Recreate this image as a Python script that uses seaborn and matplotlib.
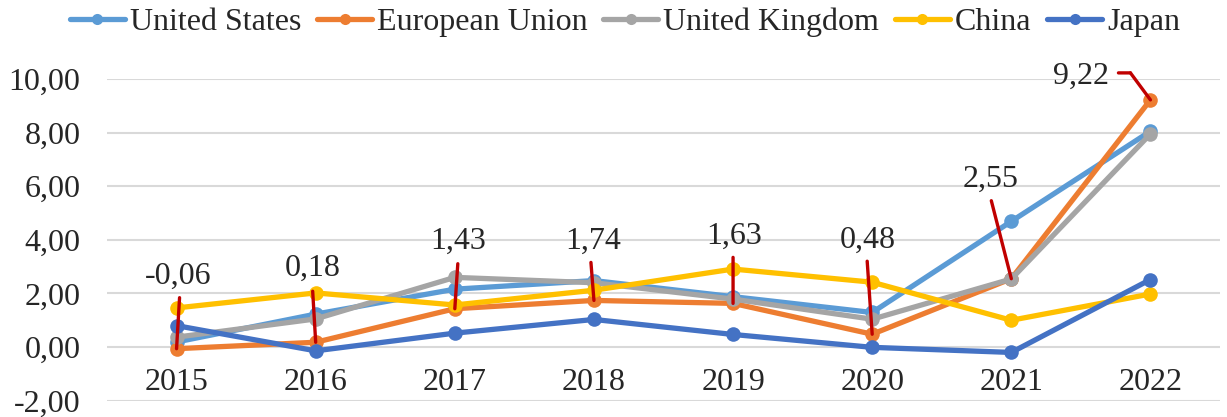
import pandas as pd
import matplotlib.pyplot as plt
import seaborn as sns
from matplotlib.lines import Line2D
from matplotlib.ticker import FuncFormatter
from matplotlib.transforms import offset_copy

years = [2015, 2016, 2017, 2018, 2019, 2020, 2021, 2022]
countries = ["United States", "European Union", "United Kingdom", "China", "Japan"]
united_states = [0.19, 1.23, 2.16, 2.48, 1.88, 1.29, 4.69, 8.05]
european_union = [-0.06, 0.18, 1.43, 1.74, 1.63, 0.48, 2.55, 9.22]
united_kingdom = [0.37, 1.05, 2.60, 2.40, 1.79, 1.04, 2.54, 7.95]
china = [1.46, 2.02, 1.57, 2.12, 2.91, 2.42, 1.00, 1.98]
japan = [0.80, -0.14, 0.52, 1.03, 0.47, -0.01, -0.20, 2.52]

colors = ["#5B9BD5", "#ED7D31", "#A5A5A5", "#FFC000", "#4472C4"]
leader_red = "#C00000"

# pixel offsets of the EU data labels and their leader lines
label_offsets = [(2, 72), (-3, 74), (3, 67), (-1, 59), (1, 67), (-4, 94), (-21, 99), (-69, 24)]
leader_paths = [[(3, 51)], [(-3, 51)], [(3, 45)], [(-3, 38)], [(0, 46)],
                [(-5, 73)], [(-20, 78)], [(-20, 27), (-32, 27)]]


def fmt(v, _=None):
    return f"{v:.2f}".replace(".", ",")


series = [united_states, european_union, united_kingdom, china, japan]
df = pd.concat(
    [pd.DataFrame({"year": years, "value": vals, "country": name})
     for name, vals in zip(countries, series)],
    ignore_index=True,
)

sns.set_style("white")
plt.rcParams["font.family"] = ["Liberation Serif", "DejaVu Serif"]

fig = plt.figure(figsize=(12.27, 4.17), dpi=100)
ax = fig.add_axes([0.0872, 0.0391, 0.9071, 0.7715])

sns.lineplot(
    data=df, x="year", y="value", hue="country", hue_order=countries,
    palette=colors, marker="o", markersize=10.5, markeredgewidth=0,
    linewidth=3.8, legend=False, ax=ax,
)

ax.set_xlim(2014.5, 2022.5)
ax.set_ylim(-2, 10)
ax.set_xticks(years)
ax.set_yticks(range(-2, 11, 2))
ax.yaxis.set_major_formatter(FuncFormatter(fmt))
ax.grid(axis="y", color="#D9D9D9", linewidth=1.5)
ax.grid(axis="x", visible=False)
ax.set_axisbelow(True)
for s in ax.spines.values():
    s.set_visible(False)
ax.spines["bottom"].set_position(("data", 0))
ax.tick_params(length=0, labelsize=23)
ax.tick_params(axis="y", pad=19)
ax.tick_params(axis="x", pad=15)
ax.set_xlabel("")
ax.set_ylabel("")

# EU data labels with leader lines
for yr, v, off, path in zip(years, european_union, label_offsets, leader_paths):
    prev = (0, 0)
    for dx, dy in path:
        ax.annotate(
            "", xy=(yr, v),
            xycoords=offset_copy(ax.transData, fig=fig, x=prev[0], y=prev[1], units="dots"),
            xytext=(dx - prev[0], dy - prev[1]), textcoords="offset pixels",
            arrowprops=dict(arrowstyle="-", color=leader_red, lw=2.4, shrinkA=0, shrinkB=0),
            annotation_clip=False,
        )
        prev = (dx, dy)
    ax.annotate(fmt(v), xy=(yr, v), xytext=off, textcoords="offset pixels",
                ha="center", va="center", fontsize=23, annotation_clip=False)

handles = [Line2D([0], [0], color=c, lw=3.8, marker="o", markersize=8, markeredgewidth=0)
           for c in colors]
fig.legend(handles, countries, loc="center", bbox_to_anchor=(625 / 1227, 1 - 22 / 417),
           ncol=5, frameon=False, fontsize=23, handlelength=1.72, handletextpad=0.15,
           columnspacing=0.5, borderaxespad=0, borderpad=0)

fig.savefig("out.png", dpi=100)
